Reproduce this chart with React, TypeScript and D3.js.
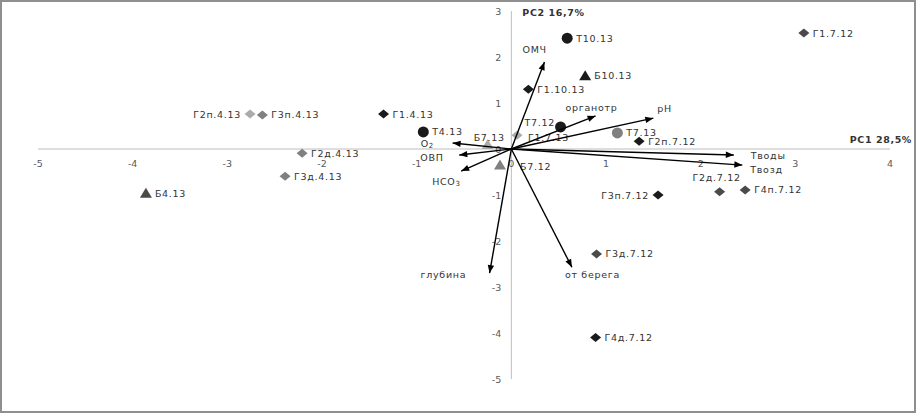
import React from "react";
import * as d3 from "d3";

// ---------- DATA ----------
const sampleNames = [
  "Г1.7.12", "Т10.13", "Б10.13", "Г1.10.13", "Т7.12", "Т7.13", "Г2п.7.12", "Г1.7.13",
  "Б7.13", "Б7.12", "Т4.13", "Г1.4.13", "Г2п.4.13", "Г3п.4.13", "Г2д.4.13", "Г3д.4.13",
  "Б4.13", "Г3п.7.12", "Г2д.7.12", "Г4п.7.12", "Г3д.7.12", "Г4д.7.12",
];
const samplePC1 = [3.09, 0.59, 0.78, 0.18, 0.52, 1.12, 1.35, 0.06, -0.25, -0.12, -0.93, -1.35, -2.76, -2.63, -2.21, -2.39, -3.86, 1.55, 2.2, 2.47, 0.9, 0.89];
const samplePC2 = [2.52, 2.41, 1.59, 1.3, 0.48, 0.35, 0.17, 0.3, 0.1, -0.35, 0.37, 0.76, 0.76, 0.74, -0.09, -0.59, -0.96, -1.0, -0.93, -0.89, -2.28, -4.1];
const sampleKind = ["Г", "Т", "Б", "Г", "Т", "Т", "Г", "Г", "Б", "Б", "Т", "Г", "Г", "Г", "Г", "Г", "Б", "Г", "Г", "Г", "Г", "Г"];
const sampleTone = ["d", "k", "k", "k", "k", "m", "k", "l", "l", "m", "k", "k", "l", "m", "m", "m", "d", "k", "d", "d", "d", "k"];

const vectorNames = ["ОМЧ", "органотр", "pH", "Tводы", "Tвозд", "от берега", "глубина", "HCO3", "ОВП", "O2"];
const vectorPC1 = [0.35, 0.89, 1.5, 2.35, 2.44, 0.64, -0.23, -0.53, -0.55, -0.62];
const vectorPC2 = [1.89, 0.72, 0.67, -0.13, -0.35, -2.57, -2.7, -0.48, -0.13, 0.13];

const xTicks = [-5, -4, -3, -2, -1, 0, 1, 2, 3, 4];
const yTicks = [-5, -4, -3, -2, -1, 0, 1, 2, 3];
const xTitle = "PC1 28,5%";
const yTitle = "PC2 16,7%";

// ---------- STYLE / LAYOUT ----------
const W = 917, H = 414;
const toneColor: Record<string, string> = { k: "#1a1a1a", d: "#4a4a4a", m: "#808080", l: "#ababab" };
const sampleLabelPos: Record<string, [number, number, string]> = {
  "Г2п.4.13": [-9, 0, "end"],
  "Г3п.7.12": [-9, 0, "end"],
  "Г2д.7.12": [-27, -14, "start"],
  "Т7.12": [-36, -4, "start"],
  "Б7.13": [-14, -7, "start"],
  "Б7.12": [20, 1, "start"],
  "Г1.7.13": [11, 2, "start"],
};
const vectorLabelPos: Record<string, [number, number, string]> = {
  "ОМЧ": [-22, -13, "start"],
  "органотр": [-30, -8, "start"],
  "pH": [4, -10, "start"],
  "Tводы": [17, 1, "start"],
  "Tвозд": [8, 4, "start"],
  "от берега": [-7, 7, "start"],
  "глубина": [-69, 1, "start"],
  "HCO3": [-29, 10, "start"],
  "ОВП": [-39, 3, "start"],
  "O2": [-32, 0, "start"],
};

const FONT = "'DejaVu Sans', 'Liberation Sans', sans-serif";

export default function App() {
  const x = d3.scaleLinear().domain([-5, 4]).range([38, 890]);
  const y = d3.scaleLinear().domain([-5, 3]).range([379, 11]);
  const x0 = x(0), y0 = y(0);

  const marker = (kind: string, cx: number, cy: number, fill: string) => {
    if (kind === "Т") return <circle cx={cx} cy={cy} r={5.5} fill={fill} />;
    if (kind === "Б") {
      const p = `${cx},${cy - 5.5} ${cx + 6},${cy + 4.5} ${cx - 6},${cy + 4.5}`;
      return <polygon points={p} fill={fill} />;
    }
    const p = `${cx},${cy - 4.5} ${cx + 5.5},${cy} ${cx},${cy + 4.5} ${cx - 5.5},${cy}`;
    return <polygon points={p} fill={fill} />;
  };

  const arrowHead = (x1: number, y1: number, x2: number, y2: number) => {
    const ang = Math.atan2(y2 - y1, x2 - x1);
    const L = 8, Wd = 3.2;
    const bx = x2 - L * Math.cos(ang), by = y2 - L * Math.sin(ang);
    const px = -Math.sin(ang) * Wd, py = Math.cos(ang) * Wd;
    return `${x2},${y2} ${bx + px},${by + py} ${bx - px},${by - py}`;
  };

  const renderVectorLabel = (name: string) => {
    if (name === "HCO3") return <>HCO<tspan fontSize={7} dy={3}>3</tspan></>;
    if (name === "O2") return <>O<tspan fontSize={7} dy={3}>2</tspan></>;
    return name;
  };

  return (
    <svg width={W} height={H} style={{ position: "fixed", left: 0, top: 0, display: "block", background: "#fff" }}
      fontFamily={FONT}>
      <rect x={1} y={1} width={W - 3} height={H - 3} fill="#fff" stroke="#8f8f8f" strokeWidth={2} />
      {/* axes */}
      <line x1={x(-5)} x2={x(4)} y1={y0} y2={y0} stroke="#bdbdbd" strokeWidth={1} />
      <line x1={x0} x2={x0} y1={y(3)} y2={y(-5)} stroke="#bdbdbd" strokeWidth={1} />
      {xTicks.map((t) => (
        <text key={"xt" + t} x={x(t)} y={y0 + 14} fontSize={9.5} fill="#595959" textAnchor="middle" dominantBaseline="central">{t}</text>
      ))}
      {yTicks.map((t) => (
        <text key={"yt" + t} x={x0 - 10} y={y(t)} fontSize={9.5} fill="#595959" textAnchor="end" dominantBaseline="central">{t}</text>
      ))}
      <text x={x0 + 11} y={y(3) + 1} fontSize={9.5} fontWeight="bold" fill="#333" letterSpacing={0.6} dominantBaseline="central">{yTitle}</text>
      <text x={x(4) + 22} y={y0 - 10} fontSize={9.5} fontWeight="bold" fill="#333" letterSpacing={0.6} textAnchor="end" dominantBaseline="central">{xTitle}</text>

      {/* samples */}
      {sampleNames.map((n, i) => {
        const cx = x(samplePC1[i]), cy = y(samplePC2[i]);
        const lp = sampleLabelPos[n] || [9, 0, "start"];
        return (
          <g key={"s" + n}>
            {marker(sampleKind[i], cx, cy, toneColor[sampleTone[i]])}
            <text x={cx + lp[0]} y={cy + lp[1]} fontSize={9.5} fill="#333" letterSpacing={0.7}
              textAnchor={lp[2] as any} dominantBaseline="central">{n}</text>
          </g>
        );
      })}

      {/* vectors */}
      {vectorNames.map((n, i) => {
        const ex = x(vectorPC1[i]), ey = y(vectorPC2[i]);
        const lp = vectorLabelPos[n];
        return (
          <g key={"v" + n}>
            <line x1={x0} y1={y0} x2={ex} y2={ey} stroke="#000" strokeWidth={1.4} />
            <polygon points={arrowHead(x0, y0, ex, ey)} fill="#000" />
            <text x={ex + lp[0]} y={ey + lp[1]} fontSize={9.5} fill="#333" letterSpacing={0.7}
              textAnchor={lp[2] as any} dominantBaseline="central">{renderVectorLabel(n)}</text>
          </g>
        );
      })}
    </svg>
  );
}
